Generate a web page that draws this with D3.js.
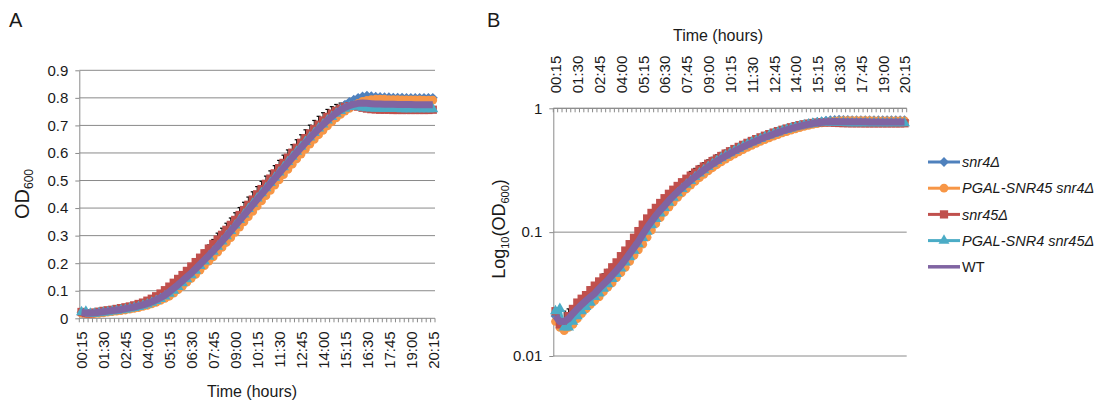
<!DOCTYPE html>
<html>
<head>
<meta charset="utf-8">
<script src="https://cdn.jsdelivr.net/npm/d3@7"></script>
<style>
  body { margin: 0; background: #fff; }
  text { font-family: "Liberation Sans", Arial, sans-serif; fill: #1a1a1a; }
</style>
</head>
<body>
<div id="chart"></div>
<script>
// sampling every 15 min from 00:15 to 20:15
const times = d3.range(81).map(i => {
  const m = 15 + i * 15;
  return String(Math.floor(m / 60)).padStart(2, "0") + ":" + String(m % 60).padStart(2, "0");
});
const tickLabels = ["00:15","01:30","02:45","04:00","05:15","06:30","07:45","09:00","10:15",
  "11:30","12:45","14:00","15:15","16:30","17:45","19:00","20:15"];

const seriesNames = ["snr4Δ", "PGAL-SNR45 snr4Δ", "snr45Δ", "PGAL-SNR4 snr45Δ", "WT"];

const snr4 = [0.021,0.019,0.018,0.020,0.022,0.024,0.026,0.028,0.030,0.033,
  0.035,0.038,0.042,0.045,0.050,0.055,0.061,0.068,0.076,0.086,
  0.097,0.109,0.122,0.135,0.149,0.164,0.179,0.195,0.211,0.228,
  0.245,0.262,0.280,0.298,0.317,0.336,0.355,0.374,0.393,0.412,
  0.431,0.450,0.469,0.488,0.507,0.526,0.545,0.564,0.583,0.601,
  0.619,0.637,0.655,0.672,0.689,0.706,0.722,0.737,0.751,0.764,
  0.775,0.785,0.793,0.800,0.805,0.808,0.806,0.804,0.803,0.802,
  0.802,0.801,0.801,0.801,0.800,0.800,0.800,0.800,0.800,0.800,
  0.800];

const pgalSnr45 = [0.019,0.017,0.016,0.017,0.018,0.020,0.022,0.024,0.026,0.028,
  0.030,0.033,0.036,0.039,0.043,0.047,0.052,0.058,0.065,0.072,
  0.080,0.091,0.104,0.117,0.131,0.145,0.159,0.175,0.191,0.207,
  0.223,0.240,0.257,0.275,0.293,0.312,0.331,0.350,0.369,0.388,
  0.407,0.426,0.445,0.464,0.483,0.502,0.521,0.540,0.559,0.578,
  0.596,0.614,0.632,0.649,0.666,0.682,0.698,0.713,0.727,0.740,
  0.752,0.762,0.771,0.780,0.787,0.791,0.794,0.795,0.795,0.795,
  0.794,0.794,0.794,0.793,0.793,0.793,0.793,0.793,0.792,0.792,
  0.792];

const snr45 = [0.023,0.018,0.018,0.021,0.024,0.027,0.029,0.031,0.034,0.037,
  0.040,0.043,0.047,0.052,0.057,0.064,0.071,0.080,0.090,0.102,
  0.115,0.129,0.143,0.157,0.172,0.188,0.204,0.220,0.236,0.253,
  0.270,0.286,0.303,0.321,0.339,0.357,0.375,0.393,0.412,0.431,
  0.450,0.469,0.488,0.507,0.526,0.545,0.564,0.583,0.601,0.619,
  0.637,0.654,0.671,0.687,0.703,0.718,0.731,0.743,0.753,0.761,
  0.767,0.770,0.771,0.768,0.764,0.761,0.759,0.758,0.757,0.757,
  0.757,0.756,0.756,0.756,0.756,0.756,0.756,0.756,0.756,0.756,
  0.757];

const pgalSnr4 = [0.023,0.024,0.017,0.017,0.019,0.021,0.023,0.025,0.027,0.030,
  0.032,0.035,0.038,0.042,0.046,0.051,0.057,0.063,0.071,0.080,
  0.090,0.101,0.114,0.128,0.142,0.157,0.173,0.190,0.207,0.224,
  0.242,0.260,0.279,0.298,0.317,0.337,0.357,0.377,0.397,0.416,
  0.435,0.454,0.473,0.492,0.511,0.530,0.549,0.568,0.587,0.605,
  0.623,0.640,0.657,0.673,0.689,0.704,0.718,0.731,0.743,0.753,
  0.761,0.767,0.770,0.768,0.765,0.763,0.762,0.761,0.761,0.760,
  0.760,0.760,0.760,0.759,0.759,0.759,0.759,0.759,0.759,0.759,
  0.759];

const wt = [0.021,0.019,0.019,0.020,0.022,0.024,0.026,0.028,0.030,0.032,
  0.035,0.038,0.041,0.045,0.049,0.054,0.060,0.067,0.075,0.084,
  0.096,0.109,0.122,0.136,0.150,0.164,0.180,0.196,0.212,0.228,
  0.245,0.262,0.280,0.298,0.317,0.336,0.355,0.374,0.393,0.412,
  0.431,0.450,0.469,0.488,0.507,0.526,0.545,0.564,0.583,0.601,
  0.619,0.637,0.654,0.671,0.687,0.703,0.718,0.732,0.745,0.756,
  0.765,0.772,0.777,0.780,0.781,0.780,0.779,0.778,0.778,0.777,
  0.777,0.777,0.776,0.776,0.776,0.776,0.775,0.775,0.775,0.775,
  0.775];

// upper error (SD) on WT
const wtSd = [0.003,0.004,0.004,0.004,0.003,0.004,0.004,0.005,0.006,0.007,
  0.007,0.008,0.009,0.010,0.011,0.012,0.013,0.014,0.015,0.016,
  0.017,0.018,0.019,0.020,0.022,0.026,0.029,0.032,0.035,0.038,
  0.041,0.047,0.047,0.047,0.047,0.047,0.047,0.047,0.047,0.047,
  0.047,0.047,0.047,0.047,0.047,0.047,0.047,0.047,0.047,0.047,
  0.047,0.047,0.047,0.047,0.046,0.043,0.040,0.036,0.031,0.025,
  0.019,0.013,0.008,0.006,0.006,0.006,0.006,0.006,0.006,0.006,
  0.006,0.006,0.006,0.006,0.006,0.006,0.006,0.006,0.006,0.006,
  0.006];

const seriesList = [
  { name: seriesNames[0], values: snr4,      color: "#4f81bd", symbol: d3.symbolDiamond2, size: 62, italic: true },
  { name: seriesNames[1], values: pgalSnr45, color: "#f79646", symbol: d3.symbolCircle,   size: 60, italic: true },
  { name: seriesNames[2], values: snr45,     color: "#c0504d", symbol: d3.symbolSquare,   size: 68, italic: true },
  { name: seriesNames[3], values: pgalSnr4,  color: "#4bacc6", symbol: d3.symbolTriangle, size: 52, italic: true },
  { name: seriesNames[4], values: wt,        color: "#8064a2", symbol: null,              size: 0,  italic: false }
];

const gridColor = "#8a8a8a";

const svg = d3.select("#chart").append("svg")
  .attr("width", 1102)
  .attr("height", 405);

svg.append("rect").attr("width", 1102).attr("height", 405).attr("fill", "#fff");

function drawPanel(cfg) {
  const g = svg.append("g");
  const x = d3.scalePoint().domain(times).range(cfg.xRange).padding(0.5);
  const y = cfg.y;
  const step = x.step();
  const [x0, x1] = cfg.xRange;

  // horizontal gridlines
  g.append("g").selectAll("line")
    .data(cfg.grid)
    .join("line")
    .attr("x1", x0).attr("x2", x1)
    .attr("y1", d => y(d)).attr("y2", d => y(d))
    .attr("stroke", gridColor).attr("stroke-width", 1);

  // y axis
  const yAxis = g.append("g")
    .attr("transform", `translate(${x0},0)`)
    .call(d3.axisLeft(y).tickValues(cfg.yTicks).tickSize(4).tickSizeOuter(0)
      .tickPadding(7).tickFormat(cfg.yFormat));
  yAxis.selectAll("path, line").attr("stroke", gridColor);
  yAxis.selectAll("text").attr("font-size", 15).attr("fill", "#1a1a1a")
    .style("font-family", "Liberation Sans, Arial, sans-serif");

  // x axis (category ticks between points)
  const xAxisY = cfg.xAxisY;
  g.append("line")
    .attr("x1", x0).attr("x2", x1)
    .attr("y1", xAxisY).attr("y2", xAxisY)
    .attr("stroke", gridColor);
  const bounds = times.map(t => x(t) - step / 2).concat([x(times[times.length - 1]) + step / 2]);
  g.append("g").selectAll("line")
    .data(bounds)
    .join("line")
    .attr("x1", d => d).attr("x2", d => d)
    .attr("y1", xAxisY).attr("y2", xAxisY + 4)
    .attr("stroke", gridColor);

  const xAxis = g.append("g")
    .attr("transform", `translate(0,${xAxisY})`)
    .call((cfg.top ? d3.axisTop(x) : d3.axisBottom(x)).tickValues(tickLabels).tickSize(0));
  xAxis.select(".domain").remove();
  xAxis.selectAll("text")
    .attr("transform", "rotate(-90)")
    .attr("x", cfg.top ? 15 : -13)
    .attr("y", 0)
    .attr("dy", "0.36em")
    .attr("font-size", 15)
    .attr("fill", "#1a1a1a")
    .style("font-family", "Liberation Sans, Arial, sans-serif")
    .style("text-anchor", cfg.top ? "start" : "end");

  // error bars (behind the series)
  const eb = g.append("g");
  wt.forEach((v, i) => {
    const cx = x(times[i]);
    const top = y(v + wtSd[i]);
    eb.append("line").attr("x1", cx).attr("x2", cx).attr("y1", y(v)).attr("y2", top)
      .attr("stroke", "#000").attr("stroke-width", 1);
    eb.append("line").attr("x1", cx - 2).attr("x2", cx + 2).attr("y1", top).attr("y2", top)
      .attr("stroke", "#000").attr("stroke-width", 1.2);
  });

  // series
  const line = d3.line().x((d, i) => x(times[i])).y(d => y(d));
  seriesList.forEach(s => {
    const sg = g.append("g");
    sg.append("path")
      .attr("d", line(s.values))
      .attr("fill", "none")
      .attr("stroke", s.color)
      .attr("stroke-width", s.symbol ? 3 : 7)
      .attr("stroke-linejoin", "round");
    if (s.symbol) {
      sg.selectAll("path.m")
        .data(s.values)
        .join("path")
        .attr("class", "m")
        .attr("d", d3.symbol().type(s.symbol).size(s.size))
        .attr("transform", (d, i) => `translate(${x(times[i])},${y(d)})`)
        .attr("fill", s.color);
    }
  });
}

// Panel A: linear
drawPanel({
  xRange: [79.3, 435],
  y: d3.scaleLinear().domain([0, 0.9]).range([318.3, 70.3]),
  grid: [0.1, 0.2, 0.3, 0.4, 0.5, 0.6, 0.7, 0.8, 0.9],
  yTicks: [0, 0.1, 0.2, 0.3, 0.4, 0.5, 0.6, 0.7, 0.8, 0.9],
  yFormat: d => d === 0 ? "0" : d3.format(".1f")(d),
  xAxisY: 318.3,
  top: false
});

// Panel B: log
drawPanel({
  xRange: [553.3, 906.7],
  y: d3.scaleLog().domain([0.01, 1]).range([356, 108.3]),
  grid: [0.01, 0.1, 1],
  yTicks: [0.01, 0.1, 1],
  yFormat: d => d === 1 ? "1" : String(d),
  xAxisY: 108.3,
  top: true
});

// panel letters
svg.append("text").attr("x", 9).attr("y", 27).attr("font-size", 20).text("A");
svg.append("text").attr("x", 487).attr("y", 27).attr("font-size", 20).text("B");

// axis titles
svg.append("text").attr("x", 252).attr("y", 397).attr("font-size", 16)
  .attr("text-anchor", "middle").text("Time (hours)");
svg.append("text").attr("x", 718).attr("y", 41).attr("font-size", 16)
  .attr("text-anchor", "middle").text("Time (hours)");

const odA = svg.append("text")
  .attr("transform", "translate(29,194) rotate(-90)")
  .attr("text-anchor", "middle");
odA.append("tspan").attr("font-size", 20).text("OD");
odA.append("tspan").attr("font-size", 12).attr("dy", 4).text("600");

const odB = svg.append("text")
  .attr("transform", "translate(505,229) rotate(-90)")
  .attr("text-anchor", "middle");
odB.append("tspan").attr("font-size", 18).text("Log");
odB.append("tspan").attr("font-size", 11).attr("dy", 4).text("10");
odB.append("tspan").attr("font-size", 18).attr("dy", -4).text("(OD");
odB.append("tspan").attr("font-size", 11).attr("dy", 4).text("600");
odB.append("tspan").attr("font-size", 18).attr("dy", -4).text(")");

// legend
const legend = svg.append("g");
seriesList.forEach((s, k) => {
  const ly = 162 + k * 26.2;
  legend.append("line")
    .attr("x1", 928).attr("x2", 960).attr("y1", ly).attr("y2", ly)
    .attr("stroke", s.color).attr("stroke-width", s.symbol ? 3 : 3.5);
  if (s.symbol) {
    legend.append("path")
      .attr("d", d3.symbol().type(s.symbol).size(s.size))
      .attr("transform", `translate(944,${ly})`)
      .attr("fill", s.color);
  }
  legend.append("text")
    .attr("x", 962).attr("y", ly).attr("dy", "0.36em")
    .attr("font-size", 14.5)
    .attr("font-style", s.italic ? "italic" : "normal")
    .text(s.name);
});
</script>
</body>
</html>
